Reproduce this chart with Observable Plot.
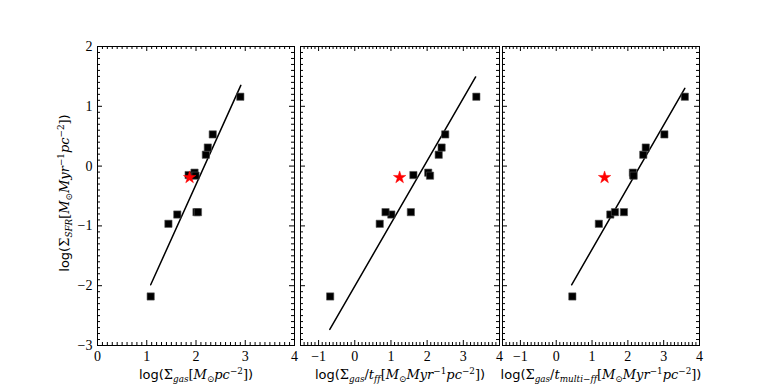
<!DOCTYPE html>
<html>
<head>
<meta charset="utf-8">
<script src="https://cdn.jsdelivr.net/npm/d3@7"></script>
<script src="https://cdn.jsdelivr.net/npm/@observablehq/plot@0.6"></script>
<style>
  html, body { margin: 0; padding: 0; background: white; }
  #wrap { position: relative; width: 780px; height: 390px; background: white; overflow: hidden; }
  #wrap svg { position: absolute; top: 0; }
  .lab { position: absolute; white-space: nowrap; font-size: 13px; line-height: 1; color: black; font-variant-ligatures: none; font-feature-settings: "liga" 0; }
  .sans { font-family: "DejaVu Sans", sans-serif; }
  .m { font-family: "DejaVu Serif", serif; }
  .m i { font-style: italic; }
  .lab sub, .lab sup { font-size: 68%; line-height: 0; position: relative; vertical-align: baseline; }
  .lab sub { top: 0.3em; }
  .lab sup { top: -0.55em; }
</style>
</head>
<body>
<div id="wrap"></div>
<script>
// ---- data ----
// log(Sigma_SFR) of each region (y, shared by all panels)
const logSFR    = [-2.18, -0.965, -0.81, -0.77, -0.77, -0.15, -0.11, -0.16, 0.19, 0.31, 0.53, 1.16];
// x values per panel
const logGas    = [1.08, 1.44, 1.62, 2.01, 2.04, 1.85, 1.97, 1.99, 2.20, 2.24, 2.34, 2.90];
const logGasTff = [-0.68, 0.69, 1.01, 0.85, 1.55, 1.62, 2.03, 2.08, 2.32, 2.40, 2.50, 3.36];
const logGasTmf = [0.45, 1.19, 1.51, 1.64, 1.89, 2.15, 2.14, 2.16, 2.43, 2.50, 3.02, 3.59];
// red star (one object) per panel
const starX = [1.87, 1.24, 1.35];
const starY = [-0.19, -0.19, -0.19];
// fitted lines: endpoints per panel
const fitX1 = [1.08, -0.69, 0.43];
const fitY1 = [-1.985, -2.73, -1.985];
const fitX2 = [2.91, 3.34, 3.59];
const fitY2 = [1.35, 1.49, 1.30];
// axes
const yTicks = [-3, -2, -1, 0, 1, 2];
const xTicks1 = [0, 1, 2, 3, 4];
const xTicks23 = [-1, 0, 1, 2, 3, 4];
const xDomains = [[0, 4], [-1.5, 4], [-1.5, 4]];
const yDomain = [-3, 2];

const panelsX = [logGas, logGasTff, logGasTmf];
const panelTicks = [xTicks1, xTicks23, xTicks23];
// layout: [svg left, marginLeft, inner width, marginRight]
const layout = [[0, 97, 197, 3], [297, 3, 199, 3], [499, 3, 197, 6]];
const mTop = 46, mBottom = 45, H = 390;
const innerH = H - mTop - mBottom;
const MAJ = 5, MIN = 3;

const wrap = document.getElementById("wrap");

function minors(dom, majors) {
  const out = [];
  for (let i = Math.round(dom[0] * 10); i <= Math.round(dom[1] * 10); i++) {
    const v = i / 10;
    if (!majors.includes(v)) out.push(v);
  }
  return out;
}

const fmt = d => (d < 0 ? "\u2212" + (-d) : String(d));
const tickFont = { fontFamily: "'Liberation Serif', 'DejaVu Serif', serif", fontSize: 14 };

for (let p = 0; p < 3; p++) {
  const [left, mL, iw, mR] = layout[p];
  const xs = panelsX[p];
  const pts = logSFR.map((y, i) => ({ x: xs[i], y }));
  const fit = [{ x: fitX1[p], y: fitY1[p] }, { x: fitX2[p], y: fitY2[p] }];
  const star = [{ x: starX[p], y: starY[p] }];
  const xMaj = panelTicks[p].filter(v => v >= xDomains[p][0] && v <= xDomains[p][1]);
  const allXMaj = d3.range(Math.ceil(xDomains[p][0]), Math.floor(xDomains[p][1]) + 1);
  const xMin = minors(xDomains[p], allXMaj);
  const yMin = minors(yDomain, yTicks);

  const marks = [
    Plot.frame({ stroke: "black", strokeWidth: 1 }),
    // x ticks bottom/top
    Plot.tickX(allXMaj, { x: d => d, insetTop: innerH - MAJ, stroke: "black" }),
    Plot.tickX(allXMaj, { x: d => d, insetBottom: innerH - MAJ, stroke: "black" }),
    Plot.tickX(xMin, { x: d => d, insetTop: innerH - MIN, stroke: "black" }),
    Plot.tickX(xMin, { x: d => d, insetBottom: innerH - MIN, stroke: "black" }),
    // y ticks left/right
    Plot.tickY(yTicks, { y: d => d, insetRight: iw - MAJ, stroke: "black" }),
    Plot.tickY(yTicks, { y: d => d, insetLeft: iw - MAJ, stroke: "black" }),
    Plot.tickY(yMin, { y: d => d, insetRight: iw - MIN, stroke: "black" }),
    Plot.tickY(yMin, { y: d => d, insetLeft: iw - MIN, stroke: "black" }),
    Plot.axisX(xMaj, { tickSize: 0, tickPadding: 6, tickFormat: fmt, ...tickFont, label: null }),
    Plot.line(fit, { x: "x", y: "y", stroke: "black", strokeWidth: 1.5 }),
    Plot.dot(pts, { x: "x", y: "y", symbol: "square", r: 4.1, fill: "black", stroke: "#555", strokeWidth: 0.6 }),
    Plot.dot(star, { x: "x", y: "y", symbol: "star", r: 3.9, fill: "red", stroke: "red", strokeWidth: 0.5 })
  ];
  if (p === 0) {
    marks.push(Plot.axisY(yTicks, { tickSize: 0, tickPadding: 5, tickFormat: fmt, ...tickFont, label: null }));
  }

  const svg = Plot.plot({
    width: mL + iw + mR,
    height: H,
    marginLeft: mL,
    marginRight: mR,
    marginTop: mTop,
    marginBottom: mBottom,
    style: { background: "transparent", overflow: "visible", color: "black" },
    x: { domain: xDomains[p], axis: null },
    y: { domain: yDomain, axis: null },
    marks
  });
  svg.style.left = left + "px";
  wrap.appendChild(svg);
}

// axis labels (mathtext-like)
const xLabels = [
  { cx: 196, html: '<span class="sans">log(</span><span class="m">Σ<sub><i>gas</i></sub>[<i>M</i><sub>⊙</sub><i>pc</i><sup>−2</sup>]</span><span class="sans">)</span>' },
  { cx: 400, html: '<span class="sans">log(</span><span class="m">Σ<sub><i>gas</i></sub>/<i>t</i><sub><i>ff</i></sub>[<i>M</i><sub>⊙</sub><i>Myr</i><sup>−1</sup><i>pc</i><sup>−2</sup>]</span><span class="sans">)</span>' },
  { cx: 601, html: '<span class="sans">log(</span><span class="m">Σ<sub><i>gas</i></sub>/<i>t</i><sub><i>multi</i>−<i>ff</i></sub>[<i>M</i><sub>⊙</sub><i>Myr</i><sup>−1</sup><i>pc</i><sup>−2</sup>]</span><span class="sans">)</span>' }
];
for (const l of xLabels) {
  const d = document.createElement("div");
  d.className = "lab";
  d.innerHTML = l.html;
  d.style.left = l.cx + "px";
  d.style.top = "368px";
  d.style.transform = "translateX(-50%)";
  wrap.appendChild(d);
}
const yl = document.createElement("div");
yl.className = "lab";
yl.innerHTML = '<span class="sans">log(</span><span class="m">Σ<sub><i>SFR</i></sub>[<i>M</i><sub>⊙</sub><i>Myr</i><sup>−1</sup><i>pc</i><sup>−2</sup>]</span><span class="sans">)</span>';
yl.style.left = "64px";
yl.style.top = "193px";
yl.style.transform = "translate(-50%, -50%) rotate(-90deg)";
wrap.appendChild(yl);
</script>
</body>
</html>
